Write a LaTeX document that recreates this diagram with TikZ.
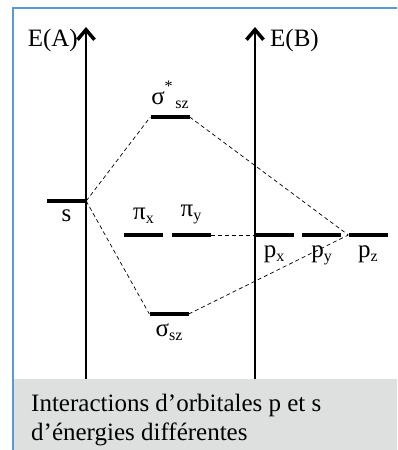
\documentclass[tikz,border=0pt]{standalone}
\usepackage{fontspec}
\setmainfont{Liberation Serif}
\usetikzlibrary{arrows.meta,positioning}
\definecolor{frameblue}{RGB}{91,155,213}
\definecolor{capgray}{RGB}{222,224,223}
\newcommand{\lowidx}[1]{\raisebox{-0.35ex}{\fontsize{16}{16}\selectfont #1}}
\newcommand{\highidx}[1]{\raisebox{1.1ex}{\fontsize{16}{16}\selectfont #1}}

\begin{document}
\begin{tikzpicture}[x=1pt,y=-1pt,
level/.style={fill=black,minimum width=39pt,minimum height=4pt,inner sep=0pt},
axis/.style={line width=2pt,-{Straight Barb[length=10pt,width=17pt,line width=3.5pt]}},
link/.style={line width=0.7pt,dash pattern=on 4pt off 3pt},
every node/.style={font=\fontsize{25}{29}\selectfont,inner sep=0pt}]
\useasboundingbox (0,0) rectangle (397,450);
\fill[capgray] (14,379) rectangle (397,450);
\draw[frameblue,line width=1.5pt] (13,450) -- (13,8) -- (397,8);
% energy axes
\coordinate (a0) at (86,379);
\coordinate (a1) at (86,27);
\coordinate (b0) at (255,379);
\coordinate (b1) at (255,27);
\draw[axis] (a0) -- (a1);
\draw[axis] (b0) -- (b1);
\node[anchor=east] (ea) at (78,40) {E(A)};
\node[anchor=west] (eb) at (270,40) {E(B)};
% levels
\node[level] (s) at (66.5,201) {};
\node[level] (sigst) at (170,117) {};
\node[level] (pix) at (143.5,235) {};
\node[level] (piy) at (191,235) {};
\node[level] (sig) at (169,314) {};
\node[level] (px) at (274,235) {};
\node[level] (py) at (321.5,235) {};
\node[level] (pz) at (368,235) {};
% labels
\node[above=6pt of sigst] (sigstl) {σ\highidx{*}\lowidx{\,sz}};
\node[below=6pt of s] (sl) {s};
\node[above=9pt of pix] (pixl) {π\lowidx{x}};
\node[above=9pt of piy] (piyl) {π\lowidx{y}};
\node[below=7pt of sig] (sigl) {σ\lowidx{sz}};
\node[below=8pt of px] (pxl) {p\lowidx{x}};
\node[below=8pt of py] (pyl) {p\lowidx{y}};
\node[below=8pt of pz] (pzl) {p\lowidx{z}};
% correlations
\draw[link] (s.east) -- (sigst.west);
\draw[link] (s.east) -- (sig.west);
\draw[link] (sigst.east) -- (pz.west);
\draw[link] (sig.east) -- (pz.west);
\draw[link] (piy.east) -- (px.west);
% caption
\node[anchor=base west,align=left] (cap) at (31,440)
  {Interactions d’orbitales p et s\\d’énergies différentes};
\end{tikzpicture}
\end{document}
